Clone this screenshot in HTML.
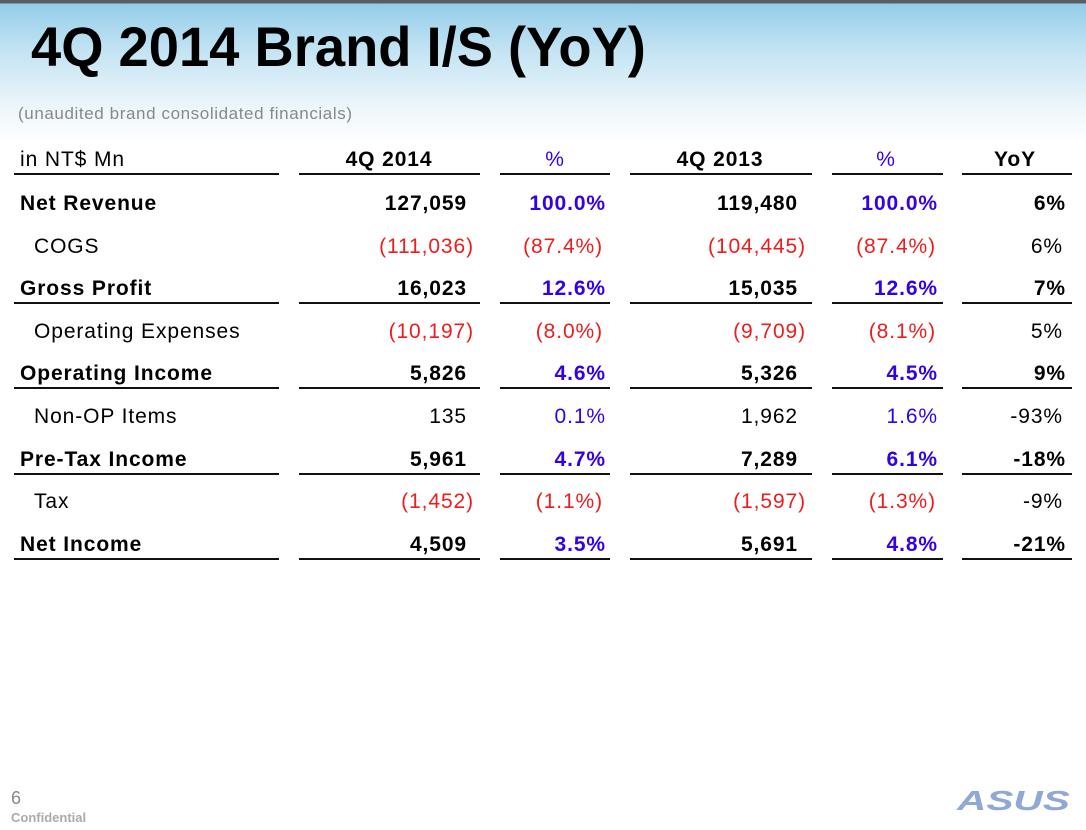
<!DOCTYPE html>
<html><head><meta charset="utf-8"><style>
html,body{margin:0;padding:0;background:#fff}
body{width:1086px;height:815px;position:relative;overflow:hidden;font-family:"Liberation Sans",Arial,sans-serif}
#bg{position:absolute;left:0;top:0;width:1086px;height:150px;background:linear-gradient(to bottom,#5a5e63 0,#5a5e63 3px,#93cde9 4px,#c3e3f3 50px,#eef7fb 110px,#fff 145px)}
.t{position:absolute;white-space:nowrap;font-size:21px;line-height:24px;letter-spacing:0.9px}
.b{font-weight:bold}
.r{color:#ee1c1c}
.bl{color:#3300ee}
.ln{position:absolute;height:2px;background:#111}
</style></head><body>
<div id="bg"></div>
<div class="t b" style="left:31px;top:15px;font-size:56px;line-height:64px;color:#000;letter-spacing:0px;transform:scaleX(0.97);transform-origin:left">4Q 2014 Brand I/S (YoY)</div>
<div class="t" style="left:18px;top:102px;font-size:17px;color:#888;letter-spacing:0.6px">(unaudited brand consolidated financials)</div>
<div id="tbl"></div>
<div class="t" style="left:11px;top:786px;font-size:18px;color:#888">6</div>
<div class="t" style="left:11px;top:806px;font-size:13px;color:#aaa;font-weight:bold;letter-spacing:0">Confidential</div>
<div class="t b" style="left:957px;top:786px;font-size:28px;line-height:30px;color:#8fa8d6;font-style:italic;letter-spacing:0;transform:scaleX(1.45);transform-origin:left">ASUS</div>
<script>
const labels=["Net Revenue","COGS","Gross Profit","Operating Expenses","Operating Income","Non-OP Items","Pre-Tax Income","Tax","Net Income"];
const bold=[1,0,1,0,1,0,1,0,1];
const under=[0,0,1,0,1,0,1,0,1];
const v2014=["127,059","(111,036)","16,023","(10,197)","5,826","135","5,961","(1,452)","4,509"];
const p2014=["100.0%","(87.4%)","12.6%","(8.0%)","4.6%","0.1%","4.7%","(1.1%)","3.5%"];
const v2013=["119,480","(104,445)","15,035","(9,709)","5,326","1,962","7,289","(1,597)","5,691"];
const p2013=["100.0%","(87.4%)","12.6%","(8.1%)","4.5%","1.6%","6.1%","(1.3%)","4.8%"];
const yoy=["6%","6%","7%","5%","9%","-93%","-18%","-9%","-21%"];
const cols=[[14,279],[299,480],[500,610],[630,812],[832,943],[962,1072]];
const tbl=document.getElementById('tbl');
function txt(s,x,y,cls,align){const d=document.createElement('div');d.className='t '+cls;d.textContent=s;
 if(align==='r'){d.style.right=(1086-x)+'px';}else if(align==='c'){d.style.left=(x-100)+'px';d.style.width='200px';d.style.textAlign='center';}else d.style.left=x+'px';
 d.style.top=y+'px';tbl.appendChild(d);return d;}
function line(c,y,h){const l=document.createElement('div');l.className='ln';l.style.left=c[0]+'px';l.style.width=(c[1]-c[0])+'px';l.style.top=y+'px';if(h)l.style.height=h+'px';tbl.appendChild(l);return l;}
let h;
h=txt("in NT$ Mn",20,148,'','l');
h=txt("4Q 2014",389,148,'b','c');
h=txt("%",555,148,'bl','c');
h=txt("4Q 2013",720,148,'b','c');
h=txt("%",886,148,'bl','c');
h=txt("YoY",1015,148,'b','c');
cols.forEach(c=>{const l=line(c,173,2);

});
function neg(s){return s.startsWith('(');}
labels.forEach((lab,i)=>{
 const y=192+i*42.6;const b=bold[i]?'b':'';
 let e;
 e=txt(lab,bold[i]?20:34,y,b,'l');
 
 
 e=txt(v2014[i],neg(v2014[i])?474:467,y,neg(v2014[i])?'r':b,'r');
 
 
 e=txt(p2014[i],neg(p2014[i])?603:606,y,neg(p2014[i])?'r':'bl '+b,'r');
 
 
 e=txt(v2013[i],neg(v2013[i])?806:798,y,neg(v2013[i])?'r':b,'r');
 
 
 e=txt(p2013[i],neg(p2013[i])?936:938,y,neg(p2013[i])?'r':'bl '+b,'r');
 
 
 e=txt(yoy[i],b?1066:1063,y,b,'r');
 
 
 if(under[i]){cols.forEach(c=>{const l=line(c,Math.round(y+25),1.5);
  
  });}
});
</script>
</body></html>
